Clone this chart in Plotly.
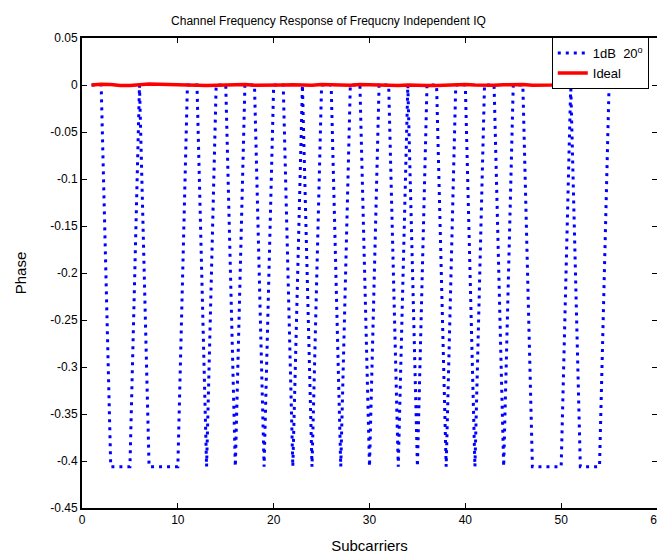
import plotly.graph_objects as go

# Subcarrier index
subcarriers = list(range(1, 57))

# Phase of the 1 dB / 20 degree IQ-imbalanced channel (two-level response)
B = -0.406
phase_iq = [
    0, 0, B, B, B, 0, B, B, B, B,
    0, 0, B, 0, 0, B, 0, 0, B, 0,
    0, B, 0, B, 0, 0, B, 0, 0, B,
    0, 0, B, 0, B, 0, 0, B, 0, 0,
    B, 0, 0, B, 0, 0, B, B, B, B,
    0, B, B, B, 0, 0,
]

# Phase of the ideal channel
phase_ideal = [
    0.0000, 0.0008, 0.0004, -0.0006, -0.0004, 0.0006, 0.0010, 0.0008, 0.0004, 0.0002,
    0.0000, -0.0004, -0.0006, -0.0002, 0.0000, 0.0006, 0.0004, -0.0002, -0.0004, -0.0002,
    0.0000, 0.0002, -0.0004, -0.0002, 0.0006, 0.0004, -0.0004, -0.0002, 0.0004, 0.0002,
    -0.0004, -0.0006, -0.0004, 0.0000, 0.0002, -0.0004, -0.0006, -0.0002, 0.0004, 0.0006,
    0.0000, -0.0004, -0.0002, 0.0002, 0.0006, 0.0004, -0.0002, -0.0004, 0.0000, 0.0004,
    0.0002, -0.0002, -0.0004, -0.0002, 0.0000, 0.0000,
]

x_ticks = [0, 10, 20, 30, 40, 50, 60]
y_ticks = [0.05, 0, -0.05, -0.1, -0.15, -0.2, -0.25, -0.3, -0.35, -0.4, -0.45]
y_tick_text = ["0.05", "0", "-0.05", "-0.1", "-0.15", "-0.2", "-0.25",
               "-0.3", "-0.35", "-0.4", "-0.45"]

FONT = "Liberation Sans, Arial, Helvetica, sans-serif"

fig = go.Figure()
fig.add_trace(go.Scatter(
    x=subcarriers, y=phase_iq, mode="lines",
    name="1dB  20<sup>o</sup>",
    line=dict(color="#0000ff", width=3, dash="3px,5px"),
))
fig.add_trace(go.Scatter(
    x=subcarriers, y=phase_ideal, mode="lines",
    name="Ideal",
    line=dict(color="#ff0000", width=3.5),
))

axis_common = dict(
    automargin=False,
    showgrid=False, zeroline=False,
    showline=True, linecolor="black", linewidth=2,
    mirror="ticks", ticks="inside", ticklen=5, tickwidth=1, tickcolor="black",
    tickfont=dict(family=FONT, size=12, color="black"),
)

fig.update_layout(
    template="none",
    width=657, height=556,
    margin=dict(l=82, r=0, t=38, b=48, autoexpand=False),
    paper_bgcolor="white", plot_bgcolor="white",
    font=dict(family=FONT, color="black"),
    title=dict(
        text="Channel Frequency Response of Frequcny Independent IQ",
        x=0.5, xref="container", xanchor="center",
        y=1 - 21 / 556, yref="container", yanchor="middle",
        font=dict(family=FONT, size=12, color="black"),
    ),
    xaxis=dict(
        range=[0, 60], tickvals=x_ticks, ticklabeloverflow="allow",
        title=dict(text="Subcarriers", font=dict(family=FONT, size=15), standoff=14),
        **axis_common,
    ),
    yaxis=dict(
        range=[-0.45, 0.05], tickvals=y_ticks, ticktext=y_tick_text,
        title=dict(text="Phase", font=dict(family=FONT, size=15), standoff=20),
        **axis_common,
    ),
    legend=dict(
        x=0.817, y=1.002, xanchor="left", yanchor="top",
        bgcolor="white", bordercolor="black", borderwidth=1,
        font=dict(family=FONT, size=13, color="black"),
        tracegroupgap=0, entrywidth=70, entrywidthmode="pixels",
    ),
    showlegend=True,
)

fig.write_html("out.html")
